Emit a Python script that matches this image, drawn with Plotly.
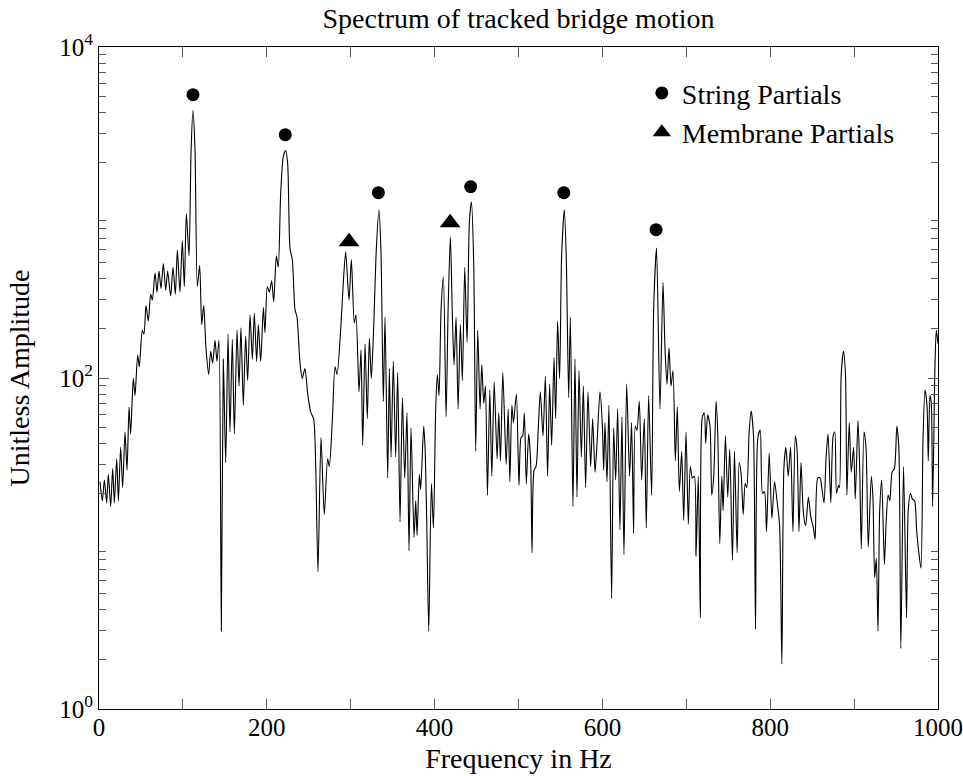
import plotly.graph_objects as go

# ---- spectrum (frequency in Hz, unitless amplitude) ----
freq = [1.2, 4.0, 6.4, 9.1, 11.1, 13.9, 16.3, 18.3, 21.1, 23.1, 25.8, 28.2, 31.0, 33.4, 35.8, 37.7,
        40.9, 42.9, 46.1, 48.1, 51.6, 53.6, 56.0, 58.8, 61.6, 63.6, 66.8, 69.1, 71.5, 73.9, 76.7, 79.5,
        81.8, 85.4, 88.2, 91.0, 93.4, 96.5, 99.3, 101.7, 104.1, 107.3, 109.7, 112.0, 114.4, 117.2, 120.0,
        122.4, 124.8, 127.5, 130.7, 133.1, 135.5, 138.3, 140.6, 143.0, 145.8, 148.2, 151.0, 153.8, 156.1,
        158.9, 161.3, 164.5, 166.9,
        169.2, 172.0, 174.8, 177.2, 180.0, 182.8, 185.1, 187.9, 189.9, 192.7, 195.9, 197.8, 200.6, 203.0,
        205.8, 208.2, 211.4, 213.7, 216.5, 219.7, 222.5, 224.9, 227.6, 230.4, 233.6, 236.0, 239.6, 242.3,
        245.5, 248.7, 252.6, 255.8, 258.2, 261.0, 264.6, 268.5, 272.5, 274.5, 278.1, 281.3, 283.7, 288.4,
        291.2, 294.0, 298.0, 300.8, 304.3, 306.3, 309.9, 312.3, 314.3, 317.1, 319.8, 322.2, 324.6, 327.4,
        330.6,
        333.7, 336.1, 338.9, 340.9, 344.1, 346.1, 348.1, 350.8, 353.6, 356.0, 358.8, 361.6, 364.4, 367.1,
        369.5, 371.9, 375.5, 377.5, 379.1, 381.8, 383.4, 387.0, 388.6, 390.6, 393.0, 396.2, 398.6, 401.3,
        403.3, 405.3, 407.7, 410.5, 413.7, 416.1, 418.8, 421.2, 423.2, 425.6, 428.0, 430.7, 433.1, 435.9,
        438.7, 441.5, 443.9, 446.6, 449.0, 451.4, 454.2, 456.2, 458.6, 460.6, 463.0, 465.8, 468.2, 471.0,
        474.5, 476.5, 478.5, 481.3, 485.3, 487.7, 489.7, 492.1, 494.0, 497.5, 500.6,
        503.0, 505.0, 507.0, 509.3, 512.1, 514.5, 516.1, 518.5, 520.9, 523.6, 526.0, 529.2, 532.0, 534.7,
        537.1, 539.5, 542.3, 544.3, 546.6, 549.0, 551.4, 554.6, 557.0, 559.8, 561.8, 564.9, 567.3, 569.7,
        572.1, 574.9, 577.3, 580.0, 582.8, 586.0, 588.4, 591.2, 593.6, 597.1, 599.9, 601.5, 603.1, 605.5,
        607.8, 611.0, 613.4, 615.8, 618.2, 620.9, 623.3, 625.7, 628.9, 632.4, 634.8, 637.2, 639.2, 641.2,
        644.0, 646.8, 649.9, 652.3, 655.1, 658.7, 661.1, 664.5,
        668.6, 672.2, 674.6, 677.0, 679.4, 681.8, 684.2, 686.9, 689.3, 691.7, 694.5, 696.9, 699.7, 702.4,
        704.8, 707.2, 709.6, 711.6, 714.3, 716.7, 719.1, 721.5, 723.1, 725.5, 728.3, 730.3, 732.7, 735.5,
        737.5, 739.9, 742.3, 743.9, 746.6, 749.4, 751.8, 755.0, 757.4, 760.6, 763.0, 765.4, 767.8, 770.2,
        772.1, 774.9, 777.3, 780.1, 782.5, 785.3, 788.1, 790.9, 793.2, 795.6, 798.8, 802.0, 805.2, 808.4,
        811.2, 813.9, 816.3, 818.7, 821.5, 824.3, 827.1, 829.9, 832.0, 834.3,
        836.7, 839.5, 842.3, 845.5, 848.3, 851.5, 853.5, 856.7, 859.4, 861.4, 864.2, 866.6, 869.0, 872.2,
        875.0, 877.0, 879.0, 881.4, 882.6, 884.6, 887.4, 889.8, 891.4, 894.2, 896.6, 899.4, 901.4, 904.6,
        906.6, 908.6, 911.8, 914.2, 916.9, 920.5, 922.5, 924.5, 926.5, 928.5, 930.5, 932.9, 936.1, 938.1,
        940.5, 942.5, 945.3, 948.1, 950.9, 953.3, 955.7, 958.9, 962.5, 964.5, 967.3, 969.3, 972.1, 974.5,
        976.9, 979.7, 982.1, 984.5, 986.9, 988.4, 990.4, 992.0, 993.6, 996.4, 998.0, 1000.0]

amplitude = [23.6, 18.1, 24.2, 17.6, 26.2, 16.7, 28.4, 17.6, 32.5, 18.1, 38.1, 21.8, 47.2, 27.7, 66.7, 45.9,
             99.5, 78.3, 137, 117, 194, 184, 274, 221, 321, 296, 431, 330, 443, 348, 492, 339,
             443, 313, 467, 321, 593, 330, 678, 357, 984, 547, 2307, 4150, 2438, 357, 480,
             210, 274, 152, 105, 145, 123, 169, 126, 169, 2.95, 130, 30.8, 184, 47.2,
             171, 45.9, 194, 89.3,
             201, 68.5, 179, 96.8, 240, 130, 246, 126, 210, 126, 267, 188, 357, 330,
             387, 289, 547, 467, 1285, 2188, 2371, 1968, 609, 519, 259, 233, 123, 99.5,
             114, 80.4, 61.5, 56.9, 30.8, 6.75, 43.6, 15.0, 32.5, 29.2, 55.3, 117, 105, 210,
             377, 578, 296, 519, 215, 240, 82.6, 148, 39.2, 161, 56.9, 174, 99.5, 204,
             609,
             1038, 578, 72.3, 233, 24.9, 114, 33.3, 126, 33.3, 108, 13.5, 76.2, 24.9, 61.5,
             9.04, 49.8, 10.9, 18.1, 11.2, 26.2, 21.2, 51.1, 38.1, 13.8, 2.95, 23.0, 12.4, 65.0,
             105, 78.3, 259, 408, 58.3, 259, 714, 233, 120, 233, 65.0, 210, 96.8, 467,
             165, 885, 1156, 492, 36.1, 194, 65.0, 120, 70.3, 89.3, 19.6, 84.7, 25.5, 94.4,
             32.5, 61.5, 31.6, 108, 30.0, 65.0, 23.6, 68.5, 53.8, 80.0, 22.4,
             43.6, 44.7, 61.5, 23.0, 45.9, 30.8, 8.79, 27.7, 29.2, 49.8, 82.6, 44.7, 102, 25.5,
             91.8, 39.2, 133, 56.9, 221, 99.5, 547, 1038, 519, 76.2, 233, 16.7, 130, 19.1,
             111, 33.3, 89.3, 21.8, 82.6, 29.2, 56.9, 27.0, 40.2, 82.6, 52.5, 27.7, 53.8, 23.6,
             68.5, 4.65, 49.8, 24.2, 65.0, 12.1, 58.3, 8.57, 91.8, 25.5, 53.8, 11.5, 51.1, 48.4,
             72.3, 24.2, 56.9, 12.4, 78.3, 19.6, 259, 609,
             65.0, 377, 152, 91.8, 152, 89.3, 111, 31.6, 66.7, 20.6, 36.1, 13.8, 47.2, 13.1,
             29.2, 24.9, 25.5, 8.34, 25.5, 3.56, 58.3, 61.5, 40.2, 60.0, 51.1, 19.6, 25.5, 72.3,
             45.9, 10.0, 25.5, 15.8, 44.7, 19.1, 37.1, 7.91, 36.1, 8.79, 30.8, 26.2, 15.0, 23.0,
             21.8, 47.2, 63.2, 44.7, 3.03, 43.6, 48.4, 20.1, 20.6, 11.8, 35.2, 14.2, 23.6, 17.6,
             12.8, 1.87, 28.4, 38.1, 25.5, 38.1, 11.8, 44.7, 37.1, 11.8,
             30.8, 15.4, 12.8, 19.1, 14.6, 12.4, 10.6, 24.9, 24.9, 21.8, 17.6, 33.3, 45.9, 17.6,
             44.7, 47.2, 20.1, 22.4, 21.8, 105, 145, 102, 19.6, 53.8, 27.0, 38.1, 18.6, 55.3,
             29.2, 9.29, 47.2, 38.1, 9.53, 25.5, 18.6, 6.22, 8.13, 2.95, 15.8, 24.2, 7.50, 13.1,
             19.6, 18.1, 27.0, 28.4, 51.1, 38.1, 2.32, 29.2, 3.56, 15.8, 20.1, 18.6, 18.1, 12.1,
             9.04, 7.11, 41.3, 84.7, 68.5, 31.6, 78.3, 70.3, 16.7, 120, 194, 161]

# ---- annotated partials ----
string_freq = [112.0, 222.0, 333.0, 443.0, 554.0, 664.0]
string_amp = [5155, 2954, 1318, 1432, 1318, 787]
membrane_freq = [298.0, 418.5]
membrane_amp = [666, 868]

# ---- ticks ----
x_tickvals = [0, 200, 400, 600, 800, 1000]
x_ticktext = ["0", "200", "400", "600", "800", "1000"]
x_minorvals = [100, 300, 500, 700, 900]
y_tickvals = [1, 100, 10000]
y_ticktext = ["10<sup>0</sup>", "10<sup>2</sup>", "10<sup>4</sup>"]
y_unlabeled_major = [10, 1000]
y_minorvals = [m * d for d in (1, 10, 100, 1000) for m in range(2, 10)]

FONT = "Liberation Serif"
TEXT_SIZE = 28
TICK_SIZE = 25
TICK_COLOR = "#555"

fig = go.Figure()
fig.add_trace(go.Scatter(x=freq, y=amplitude, mode="lines",
                         line=dict(color="black", width=1.1, shape="spline", smoothing=0.7),
                         showlegend=False, hoverinfo="skip"))
fig.add_trace(go.Scatter(x=string_freq, y=string_amp, mode="markers", name="String Partials",
                         legendgroup="s",
                         marker=dict(symbol="circle", size=13, color="black")))
fig.add_trace(go.Scatter(x=membrane_freq, y=membrane_amp, mode="markers", name="Membrane Partials",
                         legendgroup="m",
                         marker=dict(symbol="triangle-up", size=18, color="black")))

fig.update_layout(
    width=963, height=776,
    margin=dict(l=99, r=25, t=47, b=67),
    paper_bgcolor="white", plot_bgcolor="white",
    font=dict(family=FONT, size=TICK_SIZE, color="black"),
    title=dict(text="Spectrum of tracked bridge motion", x=0.5, xref="paper",
               y=1 - 18 / 776, yref="container", yanchor="middle", xanchor="center",
               font=dict(family=FONT, size=TEXT_SIZE)),
    legend=dict(x=0.647, y=0.968, xanchor="left", yanchor="top", bgcolor="rgba(0,0,0,0)",
                borderwidth=0, font=dict(family=FONT, size=TEXT_SIZE), tracegroupgap=0),
    showlegend=True,
)
fig.update_xaxes(range=[0, 1000], showgrid=False, zeroline=False, automargin=False,
                 showline=True, linecolor="black", linewidth=1, mirror="ticks",
                 ticks="inside", ticklen=10, tickwidth=1, tickcolor=TICK_COLOR,
                 tickvals=x_tickvals, ticktext=x_ticktext, ticklabelstandoff=-4,
                 tickfont=dict(size=TICK_SIZE),
                 minor=dict(tickvals=x_minorvals, ticks="inside", ticklen=10, tickwidth=1,
                            tickcolor=TICK_COLOR, showgrid=False),
                 title=dict(text="Frequency in Hz", standoff=8, font=dict(size=TEXT_SIZE)))
fig.update_layout(yaxis=dict(
    type="log", range=[0, 4], showgrid=False, zeroline=False, automargin=False,
    showline=True, linecolor="black", linewidth=1, mirror="ticks",
    ticks="inside", ticklen=10, tickwidth=1, tickcolor=TICK_COLOR,
    tickvals=y_tickvals, ticktext=y_ticktext,
    tickfont=dict(size=TICK_SIZE),
    minor=dict(tickvals=y_minorvals, ticks="inside", ticklen=7, tickwidth=1,
               tickcolor=TICK_COLOR, showgrid=False),
    title=dict(text="Unitless Amplitude", standoff=21, font=dict(size=TEXT_SIZE))),
    yaxis2=dict(
    type="log", range=[0, 4], overlaying="y", side="left", showgrid=False, zeroline=False,
    automargin=False, showline=False, mirror="ticks", showticklabels=False,
    ticks="inside", ticklen=10, tickwidth=1, tickcolor=TICK_COLOR,
    tickvals=y_unlabeled_major))

fig.write_html("out.html")
